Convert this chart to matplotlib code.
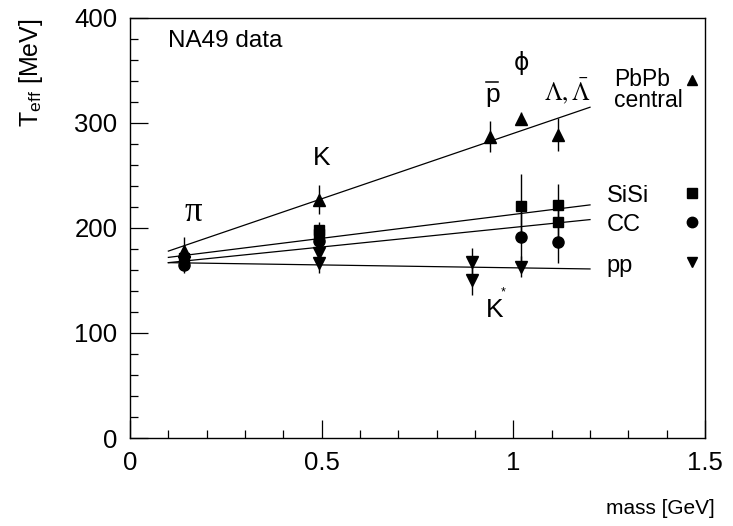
import matplotlib.pyplot as plt
from matplotlib.ticker import MultipleLocator

plt.rcParams["font.family"] = ["Liberation Sans", "DejaVu Sans"]
plt.rcParams["mathtext.fontset"] = "stix"

# ── Data (T_eff in MeV vs particle mass in GeV) ──────────────────────────────
pb_mass = [0.1396, 0.4937, 0.938, 1.019, 1.116]
pb_teff = [178, 227, 287, 304, 289]
pb_err  = [13, 14, 15, 6, 16]

si_mass = [0.1396, 0.4937, 0.4937, 1.019, 1.116, 1.116]
si_teff = [171, 198, 194, 221, 222, 206]
si_err  = [6, 8, 8, 30, 20, 20]

cc_mass = [0.1396, 0.4937, 1.019, 1.116]
cc_teff = [165, 188, 191, 187]
cc_err  = [8, 10, 28, 20]

pp_mass = [0.1396, 0.4937, 0.4937, 0.892, 0.892, 1.019]
pp_teff = [168, 176, 167, 168, 150, 163]
pp_err  = [5, 8, 10, 13, 14, 10]

# linear fits drawn across 0.1 - 1.2 GeV
fit_m   = [0.1, 1.2]
fit_pb  = [178, 315]
fit_si  = [172, 222]
fit_cc  = [167, 208]
fit_pp  = [167, 161]

fig = plt.figure(figsize=(7.33, 5.26), dpi=100)
ax = fig.add_axes([0.1774, 0.1673, 0.7844, 0.7985])

for y in (fit_pb, fit_si, fit_cc, fit_pp):
    ax.plot(fit_m, y, color="black", lw=0.9)

ms = 8.5
ax.errorbar(pb_mass, pb_teff, yerr=pb_err, fmt="^", color="black", ms=ms,
            elinewidth=1, capsize=0)
ax.errorbar(si_mass, si_teff, yerr=si_err, fmt="s", color="black", ms=ms - 1,
            elinewidth=1, capsize=0)
ax.errorbar(cc_mass, cc_teff, yerr=cc_err, fmt="o", color="black", ms=ms - 0.5,
            elinewidth=1, capsize=0)
ax.errorbar(pp_mass, pp_teff, yerr=pp_err, fmt="v", color="black", ms=ms,
            elinewidth=1, capsize=0)

# particle labels
ax.text(0.1, 372, "NA49 data", fontsize=17.5)
ax.text(0.165, 207, "π", fontsize=25, ha="center", family="Liberation Serif")
ax.text(0.5, 260, "K", fontsize=19, ha="center")
ax.text(0.945, 320, "p", fontsize=19, ha="center")
ax.plot([0.929, 0.961], [339, 339], color="black", lw=1.1)
ax.text(1.022, 350, "ϕ", fontsize=17, ha="center", family="DejaVu Sans")
ax.text(1.14, 322, r"$\Lambda,\bar{\Lambda}$", fontsize=18, ha="center")
ax.text(0.95, 115, "K", fontsize=19, ha="center")
ax.text(0.974, 136, "*", fontsize=9, ha="center")

# legend-like labels on the right
ax.text(1.262, 335, "PbPb", fontsize=16.5)
ax.text(1.262, 315, "central", fontsize=16.5)
ax.text(1.243, 225, "SiSi", fontsize=17)
ax.text(1.243, 197, "CC", fontsize=17)
ax.text(1.243, 158, "pp", fontsize=17)
ax.plot([1.465], [341], "^", color="black", ms=7.5)
ax.plot([1.465], [233], "s", color="black", ms=7)
ax.plot([1.465], [206], "o", color="black", ms=7.5)
ax.plot([1.465], [168], "v", color="black", ms=7.5)

ax.set_xlim(0, 1.5)
ax.set_ylim(0, 400)
ax.xaxis.set_major_locator(MultipleLocator(0.5))
ax.xaxis.set_minor_locator(MultipleLocator(0.1))
ax.yaxis.set_major_locator(MultipleLocator(100))
ax.yaxis.set_minor_locator(MultipleLocator(20))
ax.xaxis.set_major_formatter(plt.FuncFormatter(lambda v, p: f"{v:g}"))
ax.tick_params(which="both", direction="in", top=False, right=False,
               labelsize=18.5, width=0.9)
ax.tick_params(which="major", length=13, pad=9)
ax.tick_params(which="minor", length=6)
for sp in ax.spines.values():
    sp.set_linewidth(1.0)

fig.text(0.975, 0.015, "mass [GeV]", fontsize=15, ha="right", va="bottom")
fig.text(0.042, 0.965, r"T$_{\mathregular{eff}}$ [MeV]", fontsize=18,
         rotation=90, ha="center", va="top")

fig.savefig("out.png", dpi=100)
